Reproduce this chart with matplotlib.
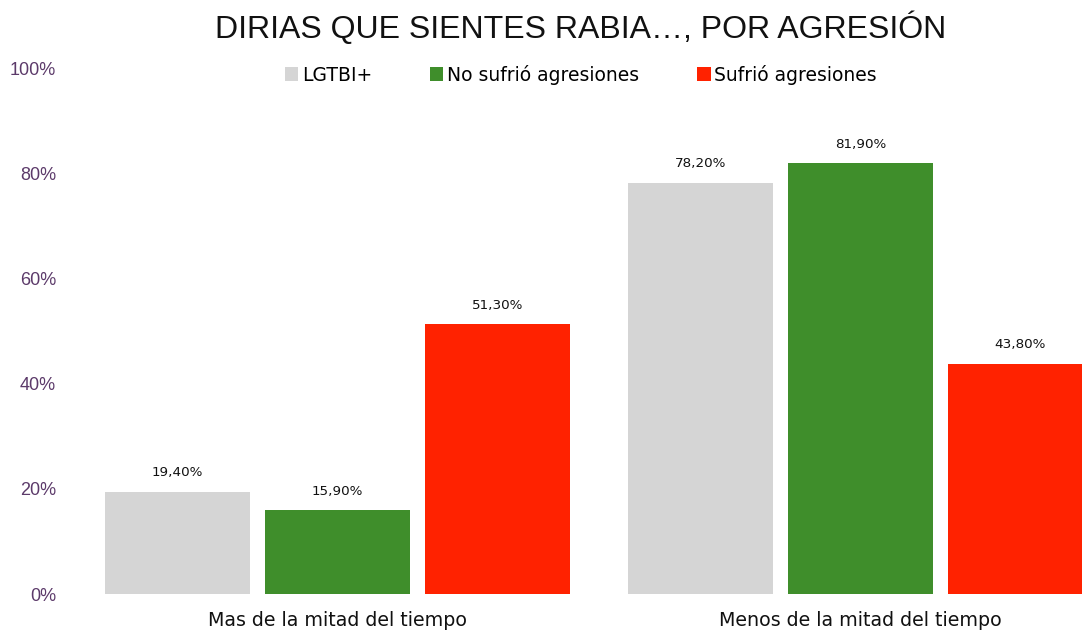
import numpy as np
import matplotlib.pyplot as plt
from matplotlib.patches import Patch

# ── Data ──────────────────────────────────────────────────────────────────────
categories = ["Mas de la mitad del tiempo", "Menos de la mitad del tiempo"]
series_names = ["LGTBI+", "No sufrió agresiones", "Sufrió agresiones"]
lgtbi = [19.4, 78.2]
no_agresion = [15.9, 81.9]
agresion = [51.3, 43.8]
colors = ["#d5d5d5", "#3f8e2b", "#ff2200"]
y_ticks = [0, 20, 40, 60, 80, 100]

LABEL_FONT = ["DejaVu Sans"]
AXIS_FONT = ["Liberation Sans"]
PURPLE = "#5c3a6a"

# ── Figure ────────────────────────────────────────────────────────────────────
fig = plt.figure(figsize=(10.82, 6.32), dpi=100)
fig.patch.set_facecolor("white")
# axes run past the right edge, so the last bar is cut off
ax = fig.add_axes([0.0702, 0.0601, 0.9667, 0.8323])

x = np.arange(len(categories))
width = 0.2772
step = 0.306
for i, (vals, col) in enumerate(zip([lgtbi, no_agresion, agresion], colors)):
    bars = ax.bar(x + (i - 1) * step, vals, width=width, color=col,
                  edgecolor="none", label=series_names[i])
    for b, v in zip(bars, vals):
        ax.annotate(f"{v:.2f}%".replace(".", ","),
                    (b.get_x() + b.get_width() / 2, v),
                    xytext=(0, 9), textcoords="offset points",
                    ha="center", va="bottom", fontsize=9.7,
                    family=LABEL_FONT, color="#111111")

ax.set_xlim(-0.5, 1.5)
ax.set_ylim(0, 100)
ax.set_xticks(x)
ax.set_xticklabels(categories, fontsize=13.7, family=LABEL_FONT, color="#111111")
ax.set_yticks(y_ticks)
ax.set_yticklabels([f"{t}%" for t in y_ticks], fontsize=13,
                   family=AXIS_FONT, color=PURPLE)
ax.tick_params(axis="both", length=0)
ax.tick_params(axis="x", pad=12)
ax.tick_params(axis="y", pad=14.4)
for s in ax.spines.values():
    s.set_visible(False)

fig.suptitle("DIRIAS QUE SIENTES RABIA…, POR AGRESIÓN", x=0.5365, y=0.956,
             va="center", fontsize=23, family=AXIS_FONT, color="#111111")

handles = [Patch(facecolor=c, edgecolor="none") for c in colors]
fig.legend(handles, series_names, loc="center", bbox_to_anchor=(0.537, 0.882),
           ncol=3, frameon=False, prop={"family": LABEL_FONT, "size": 13.5},
           handlelength=0.7, handleheight=0.7, handletextpad=0.2,
           columnspacing=3.1)

fig.savefig("out.png", dpi=100, facecolor="white")
